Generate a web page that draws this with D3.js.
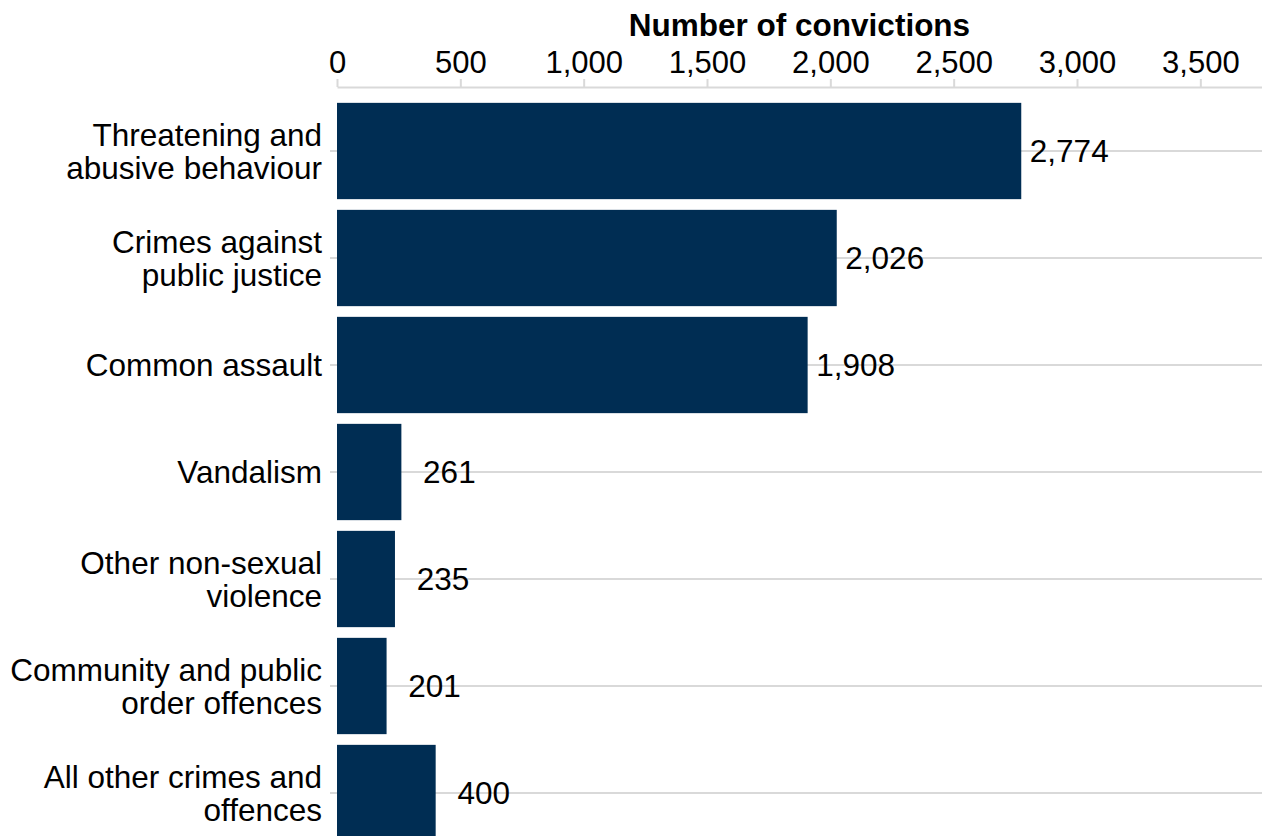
<!DOCTYPE html>
<html>
<head>
<meta charset="utf-8">
<script src="https://cdn.jsdelivr.net/npm/d3@7"></script>
<style>
  html, body { margin: 0; padding: 0; background: #ffffff; }
  svg { display: block; }
  text { font-family: "Liberation Sans", Arial, sans-serif; fill: #000; }
</style>
</head>
<body>
<svg id="chart" width="1262" height="836"></svg>
<script>
// Convictions by offence type
const categories = [
  "Threatening and abusive behaviour",
  "Crimes against public justice",
  "Common assault",
  "Vandalism",
  "Other non-sexual violence",
  "Community and public order offences",
  "All other crimes and offences"
];
const categoryLines = [
  ["Threatening and", "abusive behaviour"],
  ["Crimes against", "public justice"],
  ["Common assault"],
  ["Vandalism"],
  ["Other non-sexual", "violence"],
  ["Community and public", "order offences"],
  ["All other crimes and", "offences"]
];
const convictions = [2774, 2026, 1908, 261, 235, 201, 400];
const tickValues = [0, 500, 1000, 1500, 2000, 2500, 3000, 3500];
const axisTitle = "Number of convictions";

const width = 1262, height = 836;
const fontSize = 31.5;
const tickFontSize = 31;
const barColor = "#002d53";
const gridColor = "#d9d9d9";

const svg = d3.select("#chart");

const x = d3.scaleLinear().domain([0, 3750]).range([337, 1262]);
const y = d3.scaleBand()
  .domain(categories)
  .range([97.5, 846.5])
  .paddingInner(0.1)
  .paddingOuter(0.05);

const fmt = d3.format(",");
const axisY = 87;

// Horizontal gridlines through each category
svg.append("g").selectAll("line")
  .data(categories)
  .join("line")
  .attr("x1", 330)
  .attr("x2", width)
  .attr("y1", d => y(d) + y.bandwidth() / 2)
  .attr("y2", d => y(d) + y.bandwidth() / 2)
  .attr("stroke", gridColor)
  .attr("stroke-width", 2);

// Top value axis
const xAxis = d3.axisTop(x)
  .tickValues(tickValues)
  .tickFormat(fmt)
  .tickSize(8)
  .tickSizeOuter(0)
  .tickPadding(6);

const gx = svg.append("g")
  .attr("transform", `translate(0,${axisY})`)
  .call(xAxis);
gx.select(".domain").attr("stroke", gridColor).attr("stroke-width", 2);
gx.selectAll(".tick line").attr("stroke", gridColor).attr("stroke-width", 2);
gx.selectAll(".tick text")
  .attr("font-size", tickFontSize)
  .attr("font-family", "Liberation Sans, Arial, sans-serif")
  .attr("fill", "#000");

// Axis title
svg.append("text")
  .attr("x", (x.range()[0] + x.range()[1]) / 2)
  .attr("y", 36)
  .attr("text-anchor", "middle")
  .attr("font-size", fontSize)
  .attr("font-weight", "bold")
  .text(axisTitle);

// Bars
svg.append("g").selectAll("rect")
  .data(categories)
  .join("rect")
  .attr("x", x(0))
  .attr("y", d => y(d))
  .attr("width", (d, i) => x(convictions[i]) - x(0))
  .attr("height", y.bandwidth())
  .attr("fill", barColor);

// Value labels beyond bar ends
svg.append("g").selectAll("text")
  .data(categories)
  .join("text")
  .attr("x", (d, i) => x(convictions[i]) + 48)
  .attr("y", d => y(d) + y.bandwidth() / 2)
  .attr("dy", "0.36em")
  .attr("text-anchor", "middle")
  .attr("font-size", fontSize)
  .text((d, i) => fmt(convictions[i]));

// Category labels, right-aligned, wrapped over one or two lines
const lineGap = 33.3;
const capH = fontSize * 0.716;
const cats = svg.append("g").selectAll("text")
  .data(categories)
  .join("text")
  .attr("text-anchor", "end")
  .attr("font-size", fontSize);

cats.each(function(d, i) {
  const lines = categoryLines[i];
  const cy = y(d) + y.bandwidth() / 2;
  const blockH = capH + lineGap * (lines.length - 1);
  const firstBaseline = cy - blockH / 2 + capH;
  d3.select(this).selectAll("tspan")
    .data(lines)
    .join("tspan")
    .attr("x", 322)
    .attr("y", (t, j) => firstBaseline + j * lineGap)
    .text(t => t);
});
</script>
</body>
</html>
